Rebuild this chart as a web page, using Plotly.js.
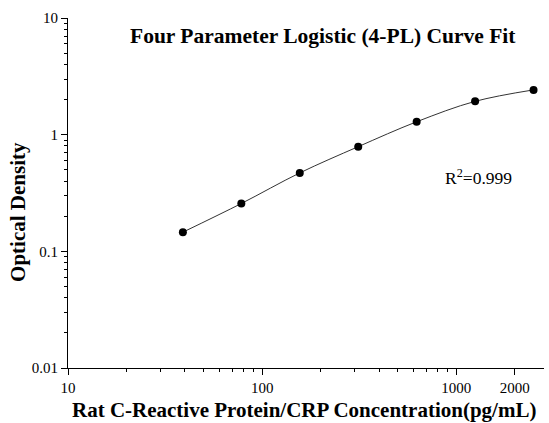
<!DOCTYPE html>
<html><head><meta charset="utf-8">
<script src="https://cdn.plot.ly/plotly-3.0.1.min.js"></script>
<style>html,body{margin:0;padding:0;background:#fff}#c{width:549px;height:423px}</style>
</head><body><div id="c"></div>
<script>
const concentration = [39.06, 78.125, 156.25, 312.5, 625, 1250, 2500];
const opticalDensity = [0.146, 0.257, 0.47, 0.789, 1.29, 1.93, 2.42];
const xTickVals = [10, 100, 1000, 2000];
const xTickText = ['10', '100', '1000', '2000'];
const yTickVals = [0.01, 0.1, 1, 10];
const yTickText = ['0.01', '0.1', '1', '10'];
const xMinor = [20,30,40,50,60,70,80,90,200,300,400,500,600,700,800,900];
const yMinor = [0.02,0.03,0.04,0.05,0.06,0.07,0.08,0.09,0.2,0.3,0.4,0.5,0.6,0.7,0.8,0.9,2,3,4,5,6,7,8,9];
const chartTitle = 'Four Parameter Logistic (4-PL) Curve Fit';
const xTitle = 'Rat C-Reactive Protein/CRP Concentration(pg/mL)';
const yTitle = 'Optical Density';
const r2Label = 'R<sup>2</sup>=0.999';

const serif = 'Liberation Serif, Times New Roman, serif';
const traces = [
  {x: concentration, y: opticalDensity, mode: 'lines', line: {shape: 'spline', color: '#333', width: 1}, hoverinfo: 'skip'},
  {x: concentration, y: opticalDensity, mode: 'markers', marker: {color: '#000', size: 8}}
];
const layout = {
  width: 549, height: 423,
  margin: {l: 68, r: 5, t: 18, b: 55},
  showlegend: false,
  paper_bgcolor: '#fff', plot_bgcolor: '#fff',
  font: {family: serif, color: '#000', size: 15},
  xaxis: {
    type: 'log', range: [1, Math.log10(2830)],
    tickmode: 'array', tickvals: xTickVals, ticktext: xTickText,
    ticks: 'outside', ticklen: 6, tickwidth: 1, tickcolor: '#000',
    showline: true, linecolor: '#000', linewidth: 1, showgrid: false, zeroline: false,
    minor: {tickmode: 'array', tickvals: xMinor, ticks: 'outside', ticklen: 3, tickcolor: '#000', showgrid: false},
    tickfont: {family: serif, size: 15}
  },
  yaxis: {
    type: 'log', range: [-2, 1],
    tickmode: 'array', tickvals: yTickVals, ticktext: yTickText,
    ticks: 'outside', ticklen: 6, tickwidth: 1, tickcolor: '#000',
    showline: true, linecolor: '#000', linewidth: 1, showgrid: false, zeroline: false,
    minor: {tickmode: 'array', tickvals: yMinor, ticks: 'outside', ticklen: 3, tickcolor: '#000', showgrid: false},
    tickfont: {family: serif, size: 15}
  },
  annotations: [
    {text: '<b>' + chartTitle + '</b>', xref: 'paper', yref: 'paper', x: 0.536, y: 0.949, xanchor: 'center', yanchor: 'middle', showarrow: false, font: {family: serif, size: 21.5}},
    {text: r2Label, xref: 'paper', yref: 'paper', x: 0.862, y: 0.546, xanchor: 'center', yanchor: 'middle', showarrow: false, font: {family: serif, size: 17.5}},
    {text: '<b>' + xTitle + '</b>', xref: 'paper', yref: 'paper', x: 0.496, y: -0.12, xanchor: 'center', yanchor: 'middle', showarrow: false, borderpad: 0, font: {family: serif, size: 21}},
    {text: '<b>' + yTitle + '</b>', xref: 'paper', yref: 'paper', x: -0.105, y: 0.446, xanchor: 'center', yanchor: 'middle', textangle: -90, showarrow: false, font: {family: serif, size: 21}}
  ]
};
Plotly.newPlot('c', traces, layout, {displayModeBar: false, staticPlot: true});
</script></body></html>
